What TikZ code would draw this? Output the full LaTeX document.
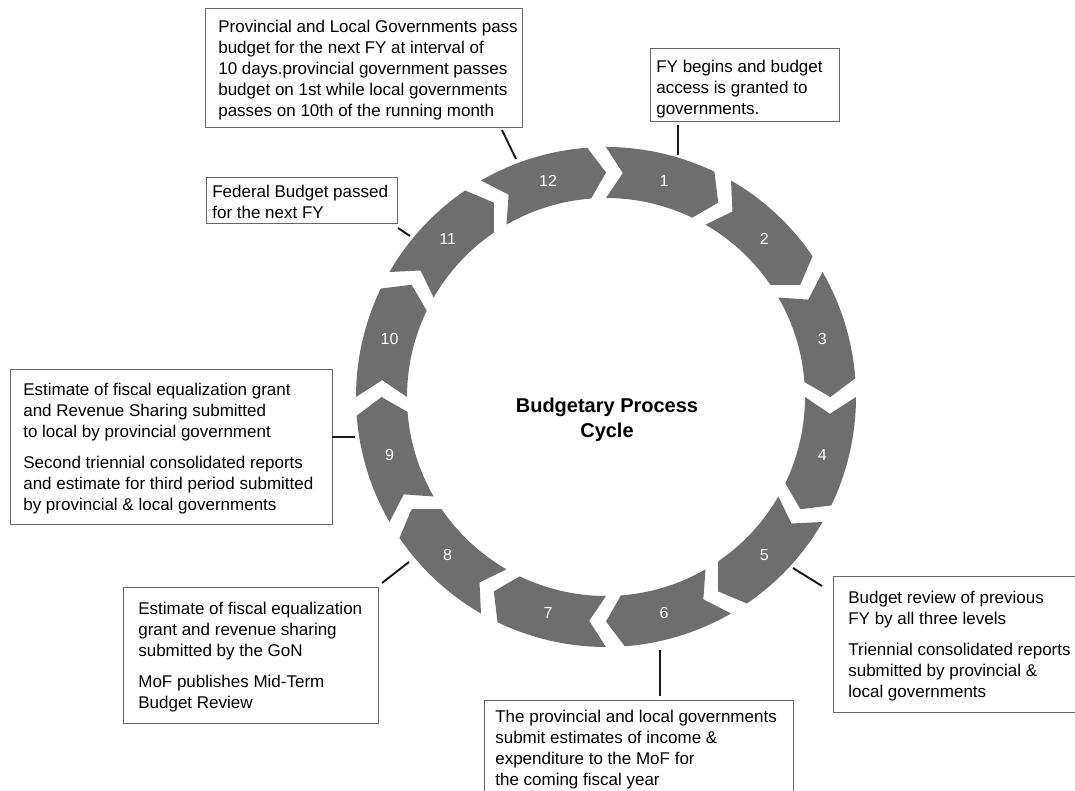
\documentclass[tikz,border=0pt]{standalone}
\usepackage{fontspec}
\setmainfont{Liberation Sans}
\definecolor{segfill}{HTML}{6E6E6E}
\definecolor{framegray}{HTML}{666666}
\begin{document}
\begin{tikzpicture}[
  frame/.style={draw=framegray, line width=0.6pt, anchor=north west, inner sep=0pt},
  note/.style={anchor=north west, inner sep=0pt, align=left, font=\fontsize{9.67}{11.95}\selectfont},
  num/.style={text=white, inner sep=0pt, font=\fontsize{9.1}{11}\selectfont},
  title/.style={anchor=north, inner sep=0pt, align=center, font=\fontsize{11.38}{13.94}\selectfont\bfseries},
  leader/.style={line width=1.1pt, draw=black!90}]
\useasboundingbox (-12.12,-7.88) rectangle (9.38,7.94);
\clip (-12.12,-7.88) rectangle (9.38,7.94);
\foreach \k in {1,...,12} {
  \pgfmathsetmacro{\angback}{90-30*(\k-1)}
  \pgfmathsetmacro{\angfront}{\angback-30}
  \pgfmathsetmacro{\angcorner}{\angfront+4.3}
  \pgfmathsetmacro{\angnotch}{\angback-4.3}
  \fill[segfill] (\angback:5) arc[start angle=\angback, end angle=\angcorner, radius=5]
    -- (\angfront:4.49) -- (\angcorner:3.98)
    arc[start angle=\angcorner, end angle=\angback, radius=3.98]
    -- (\angnotch:4.49) -- cycle;
  \node[num] (n\k) at ({\angback-15}:4.48) {\k};
}
\node[title] (cycle) at (0.02,-0.02) {Budgetary Process\\Cycle};

\node[frame, minimum width=6.34cm, minimum height=2.38cm] (box12) at (-8.02,7.78) {};
\node[note] (txt12) at (-7.76,7.54) {Provincial and Local Governments pass\\budget for the next FY at interval of\\10 days.provincial government passes\\budget on 1st while local governments\\passes on 10th of the running month};
\node[frame, minimum width=3.78cm, minimum height=1.46cm] (box1) at (0.88,6.98) {};
\node[note] (txt1) at (1.00,6.74) {FY begins and budget\\access is granted to\\governments.};
\node[frame, minimum width=3.82cm, minimum height=0.92cm] (box11) at (-8.00,4.40) {};
\node[note] (txt11) at (-7.88,4.24) {Federal Budget passed\\for the next FY};
\node[frame, minimum width=6.44cm, minimum height=3.10cm] (box9) at (-11.92,0.56) {};
\node[note] (txt9) at (-11.66,0.28) {Estimate of fiscal equalization grant\\and Revenue Sharing submitted\\to local by provincial government\\[0.2cm]Second triennial consolidated reports\\and estimate for third period submitted\\by provincial \& local governments};
\node[frame, minimum width=5.10cm, minimum height=2.72cm] (box8) at (-9.66,-3.80) {};
\node[note] (txt8) at (-9.36,-4.10) {Estimate of fiscal equalization\\grant and revenue sharing\\submitted by the GoN\\[0.2cm]MoF publishes Mid-Term\\Budget Review};
\node[frame, minimum width=5.20cm, minimum height=2.72cm] (box5) at (4.54,-3.58) {};
\node[note] (txt5) at (4.84,-3.88) {Budget review of previous\\FY by all three levels\\[0.2cm]Triennial consolidated reports\\submitted by provincial \&\\local governments};
\node[frame, minimum width=6.18cm, minimum height=2.00cm] (box6) at (-2.44,-6.06) {};
\node[note] (txt6) at (-2.22,-6.26) {The provincial and local governments\\submit estimates of income \&\\expenditure to the MoF for\\the coming fiscal year};

\coordinate (e1) at (1.44,5.44);
\coordinate (r1) at (1.44,4.84);
\draw[leader] (e1) -- (r1);
\coordinate (e12) at (-2.08,5.34);
\coordinate (r12) at (-1.80,4.76);
\draw[leader] (e12) -- (r12);
\coordinate (e11) at (-4.16,3.38);
\coordinate (r11) at (-3.92,3.22);
\draw[leader] (e11) -- (r11);
\coordinate (e9) at (-5.48,-0.80);
\coordinate (r9) at (-5.02,-0.80);
\draw[leader] (e9) -- (r9);
\coordinate (e8) at (-4.48,-3.72);
\coordinate (r8) at (-3.94,-3.30);
\draw[leader] (e8) -- (r8);
\coordinate (e5) at (4.32,-3.78);
\coordinate (r5) at (3.74,-3.42);
\draw[leader] (e5) -- (r5);
\coordinate (e6) at (1.08,-5.98);
\coordinate (r6) at (1.08,-5.06);
\draw[leader] (e6) -- (r6);
\end{tikzpicture}
\end{document}
